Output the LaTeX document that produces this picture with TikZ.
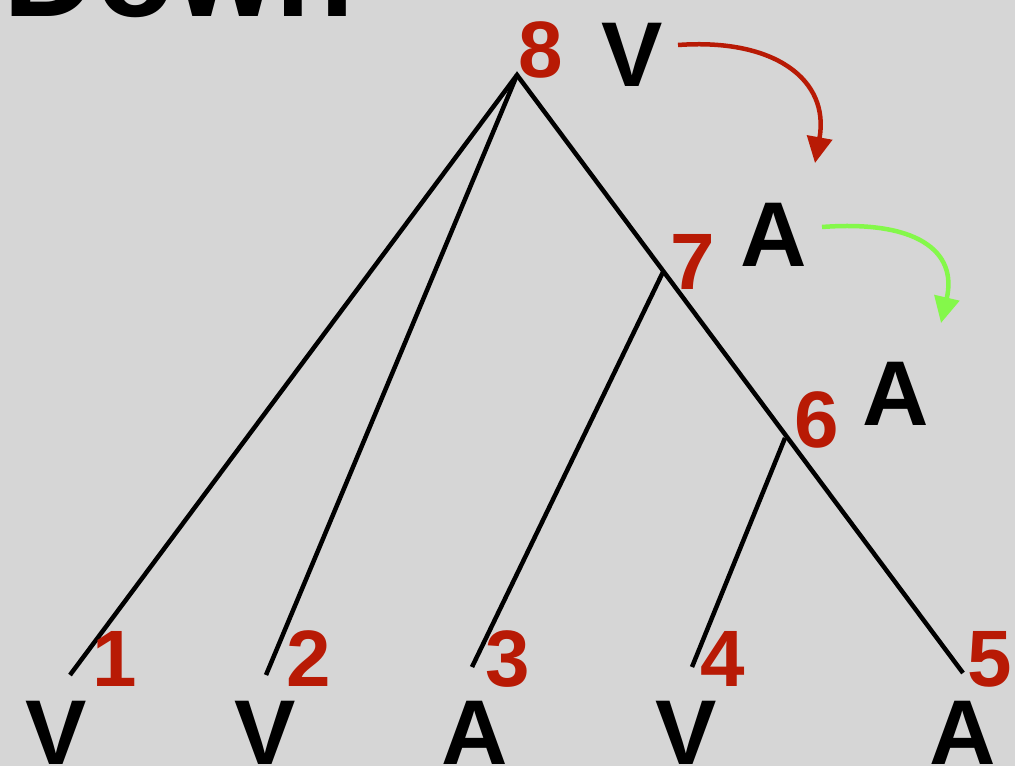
\documentclass[tikz,border=0pt]{standalone}
\usepackage{fontspec}
\setmainfont{Liberation Sans}
\usetikzlibrary{arrows.meta}
\definecolor{bg}{HTML}{D6D6D6}
\definecolor{numred}{HTML}{B81A05}
\definecolor{arrgreen}{HTML}{84F84A}
\begin{document}
\begin{tikzpicture}[x=1pt,y=-1pt,
  num/.style={anchor=base,inner sep=0pt,text=numred,font=\fontsize{80}{80}\selectfont\bfseries},
  cat/.style={anchor=base,inner sep=0pt,text=black,font=\fontsize{92}{92}\selectfont\bfseries},
  branch/.style={line width=4.5pt,black,line join=miter},
  move/.style={line width=4.5pt,-{Triangle[length=26pt,width=25pt]}}]
\fill[bg] (0,0) rectangle (1015,766);
\useasboundingbox (0,0) rectangle (1015,766);
\clip (0,0) rectangle (1015,766);
\node[anchor=base west,inner sep=0pt,font=\fontsize{129}{129}\selectfont\bfseries] (title) at (3,16) {Down};
% tree points
\coordinate (r) at (517,75);
\coordinate (n7) at (663,272);
\coordinate (n6) at (785,438);
\coordinate (l1) at (70,675);
\coordinate (l2) at (266,675);
\coordinate (l3) at (472,667);
\coordinate (l4) at (692,667);
\coordinate (l5) at (963,673);
\draw[branch] (l1) -- (r) -- (l5);
\draw[branch] (r) -- (l2);
\draw[branch] (n7) -- (l3);
\draw[branch] (n6) -- (l4);
% labels
\node[num] (k8) at (541,77) {8};
\node[cat] (c8) at (632,86) {V};
\node[num] (k7) at (693,289) {7};
\node[cat] (c7) at (774,266) {A};
\node[num] (k6) at (817,447) {6};
\node[cat] (c6) at (896,425) {A};
\node[num] (k1) at (115,686) {1};
\node[num] (k2) at (309,686) {2};
\node[num] (k3) at (508,686) {3};
\node[num] (k4) at (723,686) {4};
\node[num] (k5) at (990,686) {5};
\node[cat] (c1) at (56,764) {V};
\node[cat] (c2) at (265,764) {V};
\node[cat] (c3) at (475,764) {A};
\node[cat] (c4) at (686,764) {V};
\node[cat] (c5) at (963,764) {A};
% movement arrows
\coordinate (a1s) at (678,45);
\coordinate (a1e) at (815,163);
\coordinate (a2s) at (822,227);
\coordinate (a2e) at (941,323);
\draw[move,numred] (a1s) .. controls (775,38) and (830,80) .. (a1e);
\draw[move,arrgreen] (a2s) .. controls (915,220) and (958,250) .. (a2e);
\end{tikzpicture}
\end{document}
